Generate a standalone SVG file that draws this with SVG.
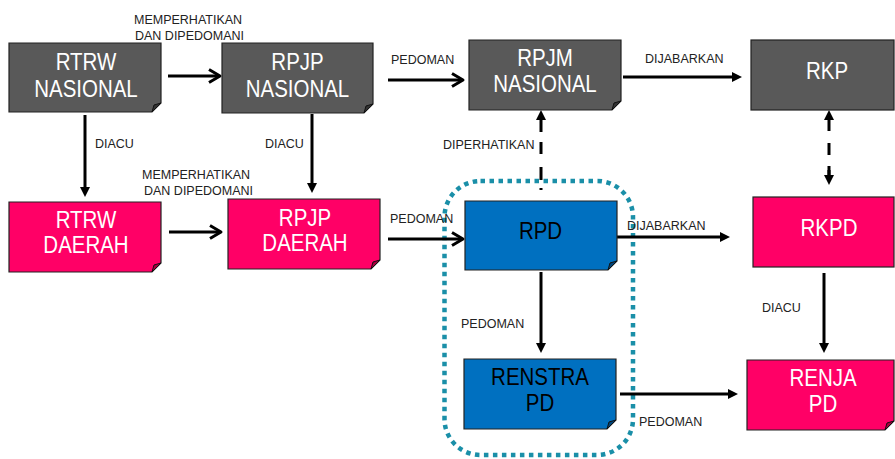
<svg xmlns="http://www.w3.org/2000/svg" width="895" height="459" viewBox="0 0 895 459">
<defs>
<style>
.box{stroke:#222;stroke-width:1.2}
.grey{fill:#595959}
.pink{fill:#ff0066}
.blue{fill:#0070c0}
.fold{stroke:#111;stroke-width:1}
.fg{fill:#333}
.fp{fill:#a8003f}
.fb{fill:#00457a}
.t{font-family:"Liberation Sans",Arial,sans-serif;font-size:23px;text-anchor:middle}
.tw{fill:#fff}
.tk{fill:#000}
.lbl{font-family:"Liberation Sans",Arial,sans-serif;font-size:12.5px;fill:#222}
.ln{stroke:#000;stroke-width:3;fill:none}
.dash{stroke:#000;stroke-width:3;fill:none}
.zone{fill:none;stroke:#1a8fa8;stroke-width:4.5;stroke-dasharray:4.5 4.5}
</style>
<marker id="tri" viewBox="0 0 10 10" refX="0" refY="5" markerWidth="10" markerHeight="10" markerUnits="userSpaceOnUse" orient="auto"><path d="M0,0 L10,5 L0,10 Z" fill="#000"/></marker>
<marker id="chev" viewBox="-2 -2 16 17" refX="9" refY="6.5" markerWidth="16" markerHeight="17" markerUnits="userSpaceOnUse" orient="auto"><path d="M0,0 L11,6.5 L0,13" fill="none" stroke="#000" stroke-width="3" stroke-linejoin="round"/></marker>
</defs>
<rect width="895" height="459" fill="#fff"/>

<g id="zone-rpd"><rect class="zone" x="444.5" y="181" width="188.5" height="274" rx="36"/></g>

<g id="connectors">
<path class="ln" d="M168,76 H218" marker-end="url(#chev)"/>
<path class="ln" d="M388,80 H461" marker-end="url(#chev)"/>
<path class="ln" d="M623,77 H732" marker-end="url(#tri)"/>
<path class="ln" d="M85,115 V187" marker-end="url(#tri)"/>
<path class="ln" d="M312,114 V183" marker-end="url(#tri)"/>
<path class="ln" d="M169,232 H219" marker-end="url(#chev)"/>
<path class="ln" d="M388,239 H461" marker-end="url(#chev)"/>
<path class="ln" d="M617,237 H720" marker-end="url(#tri)"/>
<path class="ln" d="M541,272 V343" marker-end="url(#tri)"/>
<path class="ln" d="M824,273 V343" marker-end="url(#tri)"/>
<path class="ln" d="M620,394 H728" marker-end="url(#tri)"/>
<path class="dash" d="M541,190 V120" stroke-dasharray="2 8 13 13 12 10 14 10" marker-end="url(#tri)"/>
<path class="dash" d="M829,175 V120" stroke-dasharray="9 11 12 12 12 10" marker-end="url(#tri)"/>
<path class="dash" d="M829,170 V175" marker-end="url(#tri)"/>
</g>

<g id="labels">
<text class="lbl" x="134" y="24">MEMPERHATIKAN</text>
<text class="lbl" x="135" y="39.5">DAN DIPEDOMANI</text>
<text class="lbl" x="391" y="64">PEDOMAN</text>
<text class="lbl" x="645" y="63">DIJABARKAN</text>
<text class="lbl" x="95" y="148">DIACU</text>
<text class="lbl" x="265" y="148">DIACU</text>
<text class="lbl" x="443" y="149">DIPERHATIKAN</text>
<text class="lbl" x="142" y="179">MEMPERHATIKAN</text>
<text class="lbl" x="144" y="195">DAN DIPEDOMANI</text>
<text class="lbl" x="390" y="223">PEDOMAN</text>
<text class="lbl" x="627" y="230">DIJABARKAN</text>
<text class="lbl" x="461" y="328">PEDOMAN</text>
<text class="lbl" x="762" y="312">DIACU</text>
<text class="lbl" x="639" y="426">PEDOMAN</text>
</g>

<g id="rtrw-nasional">
<path class="box grey" d="M9,43 H161 V103 L152,112 H9 Z"/>
<path class="fold fg" d="M161,103 L152,112 L154,105 Z"/>
<g transform="translate(86,70) scale(0.89,1)"><text class="t tw">RTRW</text></g>
<g transform="translate(86,97) scale(0.89,1)"><text class="t tw">NASIONAL</text></g>
</g>

<g id="rpjp-nasional">
<path class="box grey" d="M222,43 H373 V104 L364,113 H222 Z"/>
<path class="fold fg" d="M373,104 L364,113 L366,106 Z"/>
<g transform="translate(297.5,70) scale(0.89,1)"><text class="t tw">RPJP</text></g>
<g transform="translate(297.5,97) scale(0.89,1)"><text class="t tw">NASIONAL</text></g>
</g>

<g id="rpjm-nasional">
<path class="box grey" d="M469,40 H621 V101 L612,110 H469 Z"/>
<path class="fold fg" d="M621,101 L612,110 L614,103 Z"/>
<g transform="translate(545,66) scale(0.89,1)"><text class="t tw">RPJM</text></g>
<g transform="translate(545,92) scale(0.89,1)"><text class="t tw">NASIONAL</text></g>
</g>

<g id="rkp">
<rect class="box grey" x="751" y="40" width="143" height="70"/>
<g transform="translate(827,79) scale(0.89,1)"><text class="t tw">RKP</text></g>
</g>

<g id="rtrw-daerah">
<path class="box pink" d="M9,202 H161 V263 L152,272 H9 Z"/>
<path class="fold fp" d="M161,263 L152,272 L154,265 Z"/>
<g transform="translate(86,228) scale(0.89,1)"><text class="t tw">RTRW</text></g>
<g transform="translate(86,253) scale(0.89,1)"><text class="t tw">DAERAH</text></g>
</g>

<g id="rpjp-daerah">
<path class="box pink" d="M228,199 H380 V260 L371,269 H228 Z"/>
<path class="fold fp" d="M380,260 L371,269 L373,262 Z"/>
<g transform="translate(305,226) scale(0.89,1)"><text class="t tw">RPJP</text></g>
<g transform="translate(305,251) scale(0.89,1)"><text class="t tw">DAERAH</text></g>
</g>

<g id="rpd">
<path class="box blue" d="M465,201 H617 V261 L608,270 H465 Z"/>
<path class="fold fb" d="M617,261 L608,270 L610,263 Z"/>
<g transform="translate(540.5,239) scale(0.89,1)"><text class="t tk">RPD</text></g>
</g>

<g id="rkpd">
<rect class="box pink" x="753" y="197" width="141" height="70"/>
<g transform="translate(829,236) scale(0.89,1)"><text class="t tw">RKPD</text></g>
</g>

<g id="renstra-pd">
<path class="box blue" d="M464,359 H616 V420 L607,429 H464 Z"/>
<path class="fold fb" d="M616,420 L607,429 L609,422 Z"/>
<g transform="translate(540,385) scale(0.89,1)"><text class="t tk">RENSTRA</text></g>
<g transform="translate(540,411) scale(0.89,1)"><text class="t tk">PD</text></g>
</g>

<g id="renja-pd">
<path class="box pink" d="M747,360 H894 V421 L885,430 H747 Z"/>
<path class="fold fp" d="M894,421 L885,430 L887,423 Z"/>
<g transform="translate(823,386) scale(0.89,1)"><text class="t tw">RENJA</text></g>
<g transform="translate(823,412) scale(0.89,1)"><text class="t tw">PD</text></g>
</g>
</svg>
